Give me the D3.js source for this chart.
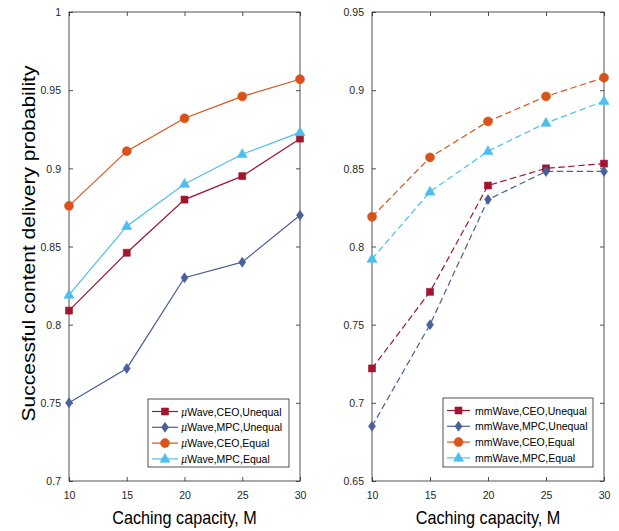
<!DOCTYPE html>
<html><head><meta charset="utf-8">
<script src="https://cdn.jsdelivr.net/npm/d3@7"></script>
<style>body{margin:0;background:#fff}svg{display:block;font-family:"Liberation Sans",Arial,sans-serif}</style>
</head><body><svg id="c" width="619" height="531"></svg>
<script>
const capacities = [10, 15, 20, 25, 30];
const xTicks = [10, 15, 20, 25, 30];
const leftYTicks = [0.7, 0.75, 0.8, 0.85, 0.9, 0.95, 1];
const rightYTicks = [0.65, 0.7, 0.75, 0.8, 0.85, 0.9, 0.95];
const muCEOUnequal = [0.809, 0.846, 0.880, 0.895, 0.919];
const muMPCUnequal = [0.750, 0.772, 0.830, 0.840, 0.870];
const muCEOEqual = [0.876, 0.911, 0.932, 0.946, 0.957];
const muMPCEqual = [0.819, 0.863, 0.890, 0.909, 0.923];
const mmCEOUnequal = [0.722, 0.771, 0.839, 0.850, 0.853];
const mmMPCUnequal = [0.685, 0.750, 0.830, 0.848, 0.848];
const mmCEOEqual = [0.819, 0.857, 0.880, 0.896, 0.908];
const mmMPCEqual = [0.792, 0.835, 0.861, 0.879, 0.893];
const schemes = ["CEO,Unequal", "MPC,Unequal", "CEO,Equal", "MPC,Equal"];
const colors = ["#A2142F", "#4A6098", "#D95319", "#4DBEEE"];
const markers = ["square", "diamond", "circle", "triangle"];

const svg = d3.select("#c");
const axisColor = "#262626";
const SX = 0.9;

function markerPath(type) {
  const p = d3.path();
  if (type === "square") { p.rect(-3.5, -3.5, 7, 7); }
  else if (type === "diamond") { p.moveTo(0, -5); p.lineTo(3.5, 0); p.lineTo(0, 5); p.lineTo(-3.5, 0); p.closePath(); }
  else if (type === "circle") { p.arc(0, 0, 4.5, 0, 2 * Math.PI); }
  else { p.moveTo(0, -5.5); p.lineTo(5, 3.3); p.lineTo(-5, 3.3); p.closePath(); }
  return p.toString();
}

function panel(cfg) {
  const {x0, x1, y0, y1, yDomain, yTicks, series, dashed, labelPrefix, legend, yFmt} = cfg;
  const x = d3.scaleLinear().domain([10, 30]).range([x0, x1]);
  const y = d3.scaleLinear().domain(yDomain).range([y1, y0]);
  const g = svg.append("g");
  g.append("rect").attr("x", x0).attr("y", y0).attr("width", x1 - x0).attr("height", y1 - y0)
    .attr("fill", "none").attr("stroke", axisColor).attr("stroke-width", 0.8);
  const bottom = g.append("g").attr("transform", `translate(0,${y1})`)
    .call(d3.axisBottom(x).tickValues(xTicks).tickSize(-4).tickPadding(10).tickFormat(d3.format("d")));
  const top = g.append("g").attr("transform", `translate(0,${y0})`)
    .call(d3.axisTop(x).tickValues(xTicks).tickSize(-4).tickFormat(""));
  const left = g.append("g").attr("transform", `translate(${x0},0)`)
    .call(d3.axisLeft(y).tickValues(yTicks).tickSize(-4).tickPadding(8).tickFormat(yFmt));
  const right = g.append("g").attr("transform", `translate(${x1},0)`)
    .call(d3.axisRight(y).tickValues(yTicks).tickSize(-4).tickFormat(""));
  [bottom, top, left, right].forEach(a => {
    a.select(".domain").remove();
    a.selectAll("line").attr("stroke", axisColor).attr("stroke-width", 0.8);
    a.selectAll("text").attr("fill", axisColor).style("font-size", "11.7px")
      .style("font-family", "'Liberation Sans', Arial, sans-serif")
      .attr("transform", `scale(${SX},1)`);
  });
  left.selectAll("text").attr("x", -8 / SX);
  g.append("text").attr("transform", `translate(${(x0 + x1) / 2},524) scale(${SX},1)`).attr("text-anchor", "middle")
    .attr("fill", "#000").style("font-size", "18px").text("Caching capacity, M");

  const line = d3.line().x((d, i) => x(capacities[i])).y(d => y(d));
  series.forEach((vals, k) => {
    g.append("path").attr("d", line(vals)).attr("fill", "none").attr("stroke", colors[k])
      .attr("stroke-width", 1.2).attr("stroke-dasharray", dashed ? "6.5,3.5" : null);
  });
  series.forEach((vals, k) => {
    g.selectAll(null).data(vals).enter().append("path")
      .attr("transform", (d, i) => `translate(${x(capacities[i])},${y(d)})`)
      .attr("d", markerPath(markers[k])).attr("fill", colors[k]).attr("stroke", colors[k]).attr("stroke-width", 0.6);
  });
  const L = legend;
  const lg = g.append("g");
  lg.append("rect").attr("x", L.x).attr("y", L.y).attr("width", L.w).attr("height", L.h)
    .attr("fill", "#fff").attr("stroke", axisColor).attr("stroke-width", 0.8);
  schemes.forEach((s, k) => {
    const ry = L.y + 12.5 + k * 15.8;
    lg.append("line").attr("x1", L.lx1).attr("x2", L.lx2).attr("y1", ry).attr("y2", ry)
      .attr("stroke", colors[k]).attr("stroke-width", 1.2);
    lg.append("path").attr("transform", `translate(${(L.lx1 + L.lx2) / 2},${ry})`)
      .attr("d", markerPath(markers[k])).attr("fill", colors[k]).attr("stroke", colors[k]).attr("stroke-width", 0.6);
    const t = lg.append("text").attr("transform", `translate(${L.tx},${ry + 4}) scale(${SX},1)`)
      .attr("fill", "#000").style("font-size", "11.7px");
    if (labelPrefix === "mu") {
      t.append("tspan").style("font-family", "'DejaVu Serif', serif").style("font-style", "italic").style("font-size", "10.5px").text("\u03bc");
      t.append("tspan").text("Wave," + s);
    } else {
      t.text("mmWave," + s);
    }
  });
}

const fmt = d => String(+d.toFixed(2));
panel({x0: 69, x1: 300, y0: 12, y1: 481, yDomain: [0.7, 1], yTicks: leftYTicks,
  series: [muCEOUnequal, muMPCUnequal, muCEOEqual, muMPCEqual], dashed: false, labelPrefix: "mu",
  yFmt: fmt, legend: {x: 148, y: 399, w: 141, h: 68, lx1: 152, lx2: 178, tx: 181}});
panel({x0: 372, x1: 604, y0: 12, y1: 481, yDomain: [0.65, 0.95], yTicks: rightYTicks,
  series: [mmCEOUnequal, mmMPCUnequal, mmCEOEqual, mmMPCEqual], dashed: true, labelPrefix: "mm",
  yFmt: fmt, legend: {x: 443, y: 398, w: 150, h: 69, lx1: 447, lx2: 470, tx: 475}});

svg.append("text").attr("transform", `translate(35,243.5) scale(${SX},1) rotate(-90)`).attr("text-anchor", "middle")
  .attr("fill", "#000").style("font-size", "21px").text("Successful content delivery probability");
</script></body></html>
